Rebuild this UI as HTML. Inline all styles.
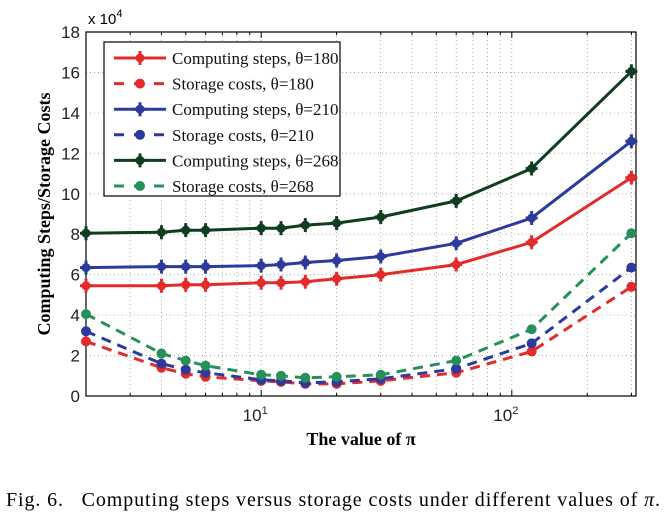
<!DOCTYPE html>
<html><head><meta charset="utf-8"><style>
html,body{margin:0;padding:0;background:#fff;width:666px;height:520px;overflow:hidden}
svg text{font-family:"Liberation Sans",Arial,sans-serif}
</style></head><body>
<svg id="chart" width="666" height="520" xmlns="http://www.w3.org/2000/svg">
<g id="grid"></g>
<g id="axes"></g>
<g id="series"></g>
<g id="legend"></g>
<text transform="translate(50,214) rotate(-90)" text-anchor="middle" font-weight="bold" font-size="18" style="font-family:'Liberation Serif',serif">Computing Steps/Storage Costs</text>
<text x="361" y="445" text-anchor="middle" font-weight="bold" font-size="18" style="font-family:'Liberation Serif',serif">The value of π</text>
<text x="88" y="24" font-size="15">x 10<tspan dy="-7" font-size="11">4</tspan></text>
<text x="6" y="506" font-size="20" textLength="654" lengthAdjust="spacing" style="font-family:'Liberation Serif',serif;white-space:pre">Fig. 6.   Computing steps versus storage costs under different values of <tspan font-style="italic">π</tspan>.</text>
</svg>
<script>
const xValues=[2,4,5,6,10,12,15,20,30,60,120,300];
const comp180=[5.45,5.45,5.5,5.5,5.6,5.6,5.65,5.8,6.0,6.5,7.6,10.8];
const comp210=[6.35,6.4,6.4,6.4,6.45,6.5,6.6,6.7,6.9,7.55,8.8,12.6];
const comp268=[8.05,8.1,8.2,8.2,8.3,8.3,8.45,8.55,8.85,9.65,11.25,16.05];
const stor180=[2.7,1.4,1.1,0.95,0.75,0.7,0.6,0.6,0.75,1.15,2.2,5.4];
const stor210=[3.2,1.6,1.3,1.15,0.8,0.75,0.65,0.7,0.85,1.35,2.6,6.35];
const stor268=[4.05,2.1,1.75,1.5,1.05,1.0,0.9,0.95,1.05,1.75,3.3,8.05];
const yTicks=[0,2,4,6,8,10,12,14,16,18];
const legendLabels=["Computing steps, θ=180","Storage costs, θ=180","Computing steps, θ=210","Storage costs, θ=210","Computing steps, θ=268","Storage costs, θ=268"];

const L=86,R=636,T=32,B=396,xmin=2,xmax=313;
const NS="http://www.w3.org/2000/svg";
const sx=v=>L+(Math.log10(v)-Math.log10(xmin))/(Math.log10(xmax)-Math.log10(xmin))*(R-L);
const sy=v=>B-v/18*(B-T);
function mk(tag,attrs,parent){const e=document.createElementNS(NS,tag);for(const k in attrs)e.setAttribute(k,attrs[k]);parent.appendChild(e);return e;}
const grid=document.getElementById('grid'),axes=document.getElementById('axes'),ser=document.getElementById('series'),leg=document.getElementById('legend');
yTicks.forEach(t=>{if(t>0&&t<18){const l=mk('line',{x1:L,x2:R,y1:sy(t),y2:sy(t),stroke:'#999','stroke-width':0.8,'stroke-dasharray':'1,3'},grid);}
 const tx=mk('text',{x:L-6,y:sy(t)+6,'text-anchor':'end','font-size':17,fill:'#222'},axes);tx.textContent=t;
 });
const xt=[];for(let d=1;d<=100;d*=10)for(let m=1;m<10;m++){const v=m*d;if(v>=xmin&&v<=xmax)xt.push(v);}
xt.forEach(v=>{const x=sx(v);const l=mk('line',{x1:x,x2:x,y1:T,y2:B,stroke:'#999','stroke-width':0.8,'stroke-dasharray':'1,3'},grid);
 
 const big=(v===10||v===100);mk('line',{x1:x,x2:x,y1:B,y2:B-(big?6:3),stroke:'#000'},axes);mk('line',{x1:x,x2:x,y1:T,y2:T+(big?6:3),stroke:'#000'},axes);
 if(big){const tx=mk('text',{x:x-6,y:B+25,'text-anchor':'middle','font-size':17,fill:'#222'},axes);tx.textContent='10';
  const sp=mk('tspan',{dy:-7,'font-size':11},tx);sp.textContent=v===10?'1':'2';
  }});
const fr=mk('rect',{x:L,y:T,width:R-L,height:B-T,fill:'none',stroke:'#000','stroke-width':1.2},axes);

const series=[[comp180,'#e32b2b',0],[stor180,'#e32b2b',1],[comp210,'#2c3a9c',0],[stor210,'#2c3a9c',1],[comp268,'#0f3d20',0],[stor268,'#27905a',1]];
function marker(g,x,y,c,dash){if(dash)mk('circle',{cx:x,cy:y,r:5,fill:c},g);else{mk('circle',{cx:x,cy:y,r:4.5,fill:c},g);mk('path',{d:`M${x-6},${y}H${x+6}M${x},${y-7}V${y+7}`,stroke:c,'stroke-width':3},g);}}
const order=[1,3,5,0,2,4];
order.forEach(i=>{const [vals,c,dash]=series[i];const g=mk('g',{},ser);
 
 
 const pts=vals.map((v,j)=>sx(xValues[j]).toFixed(1)+','+sy(v).toFixed(1)).join(' ');
 const attrs={points:pts,fill:'none',stroke:c,'stroke-width':3};if(dash)attrs['stroke-dasharray']='10,7';mk('polyline',attrs,g);
 vals.forEach((v,j)=>marker(g,sx(xValues[j]),sy(v),c,dash));});
const lb=mk('rect',{x:104,y:42,width:236,height:154,fill:'#fff',stroke:'#000','stroke-width':1.2},leg);

legendLabels.forEach((lab,i)=>{const [,c,dash]=series[i];const y=58+i*25.6;const g=mk('g',{},leg);
 
 const a={x1:114,x2:166,y1:y,y2:y,stroke:c,'stroke-width':3};if(dash)a['stroke-dasharray']='10,10';mk('line',a,g);
 marker(g,140,y,c,dash);
 const t=mk('text',{x:172,y:y+6,'font-size':17,fill:'#111',style:"font-family:'Liberation Serif',serif"},g);t.textContent=lab;});
</script>
</body></html>
